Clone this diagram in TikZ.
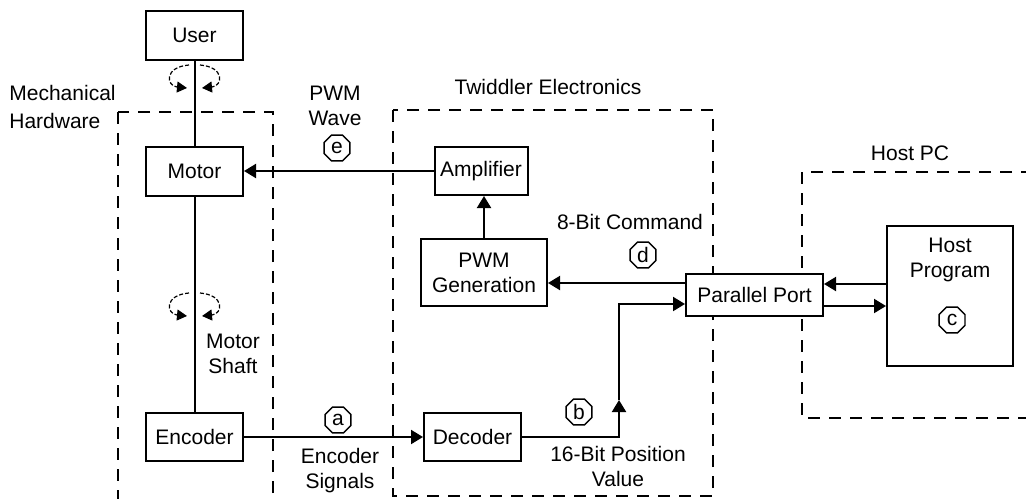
\documentclass[tikz,border=0pt]{standalone}
\usepackage{fontspec}
\setmainfont{Liberation Sans}
\usetikzlibrary{arrows.meta,calc,shapes.geometric}

\begin{document}
\begin{tikzpicture}[x=0.5pt, y=-0.5pt, >={Triangle[length=6pt,width=7pt]},
    font=\fontsize{10.5}{12.5}\selectfont,
    block/.style={draw, fill=white, line width=1pt, inner sep=0pt, align=center},
    txt/.style={inner sep=0pt, align=center},
    tag/.style={draw, line width=0.7pt, regular polygon, regular polygon sides=8, minimum size=14pt, inner sep=0pt},
    region/.style={draw, line width=1pt, dash pattern=on 6pt off 4.5pt},
    link/.style={line width=1pt},
    spin/.style={line width=0.6pt, dash pattern=on 2pt off 1pt, -{Triangle[length=5pt,width=5.5pt]}}]
    \useasboundingbox (0,0) rectangle (1026,498);
    \clip (0,0) rectangle (1026,498);

    % dashed regions
    \draw[region] (118,112) rectangle (273,540);
    \draw[region] (393,110) rectangle (713,496);
    \draw[region] (802,172) rectangle (1060,418);

    % blocks
    \node[block, minimum width=48.5pt, minimum height=24.5pt] (user) at (194.5,35.5) {User};
    \node[block, minimum width=48.5pt, minimum height=24.5pt] (motor) at (194.5,171) {Motor};
    \node[block, minimum width=48.5pt, minimum height=24pt] (encoder) at (194.5,437) {Encoder};
    \node[block, minimum width=46.5pt, minimum height=24pt] (amp) at (481,171) {Amplifier};
    \node[block, minimum width=63pt, minimum height=33.5pt] (pwm) at (484,272.5) {PWM\\Generation};
    \node[block, minimum width=68.5pt, minimum height=21pt] (port) at (754.5,295) {Parallel Port};
    \node[block, minimum width=48.5pt, minimum height=24pt] (decoder) at (472.5,437) {Decoder};
    \node[block, minimum width=63pt, minimum height=70pt] (host) at (950,296) {};
    \node[txt] (hostlabel) at (950,260) {Host\\Program};

    % labels
    \node[txt, align=left, anchor=west] (mechlabel) at (9,107) {Mechanical\\[1.5pt]Hardware};
    \node[txt] (pwmlabel) at (335,106) {PWM\\Wave};
    \node[txt] (twidlabel) at (548,87) {Twiddler Electronics};
    \node[txt] (cmdlabel) at (630,222) {8-Bit Command};
    \node[txt] (pclabel) at (910,153) {Host PC};
    \node[txt] (shaftlabel) at (233,354) {Motor\\Shaft};
    \node[txt] (siglabel) at (340,471) {Encoder\\Signals};
    \node[txt] (poslabel) at (618,466) {16-Bit Position\\Value};

    % signal tags
    \node[tag] (taga) at (338,420) {a};
    \node[tag] (tagb) at (579,412) {b};
    \node[tag] (tagc) at (952,320) {c};
    \node[tag] (tagd) at (643,255) {d};
    \node[tag] (tage) at (337,148) {e};

    % connectors
    \draw[link] (user.south) -- (motor.north);
    \draw[link] (motor.south) -- (encoder.north);
    \draw[link,->] (amp.west) -- (motor.east);
    \draw[link,->] (pwm.north) -- (pwm.north |- amp.south);
    \draw[link,->] ([yshift=6pt]port.west) -- ([yshift=6pt]port.west -| pwm.east);
    \draw[link,->] (encoder.east) -- (decoder.west);
    \coordinate (bend) at (619,400);
    \draw[link,->] (decoder.east) -| (bend);
    \draw[link,->] (bend) |- ([yshift=-4.5pt]port.west);
    \draw[link,->] ([yshift=6pt]host.west) -- ([yshift=6pt]host.west -| port.east);
    \draw[link,->] ([yshift=-5.5pt]port.east) -- ([yshift=-5.5pt]port.east -| host.west);

    % shaft rotation marks
    \foreach \sy in {77,305} {
      \draw[spin] (189,\sy-12) .. controls (164,\sy-10) and (166,\sy+9) .. (187,\sy+11);
      \draw[spin] (200,\sy-12) .. controls (225,\sy-10) and (223,\sy+9) .. (202,\sy+11);
    }
  \end{tikzpicture}
\end{document}
